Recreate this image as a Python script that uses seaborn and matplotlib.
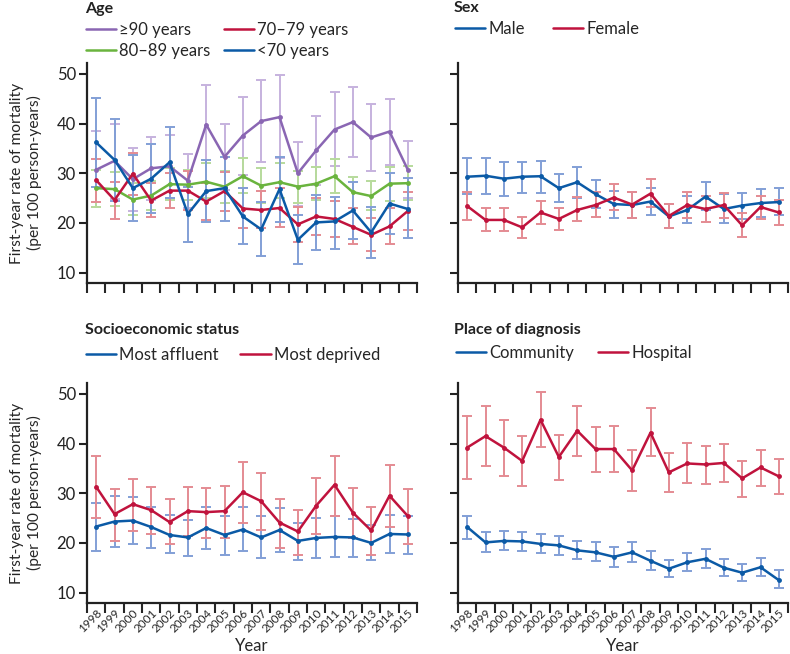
import numpy as np
import pandas as pd
import matplotlib
matplotlib.use("Agg")
import matplotlib.pyplot as plt
import seaborn as sns

years = list(range(1998, 2016))

# Age
age_ge90 = [30.7, 32.5, 28.8, 31.0, 31.4, 28.5, 39.8, 33.3, 37.6, 40.5, 41.3, 30.0, 34.6, 38.8, 40.3, 37.2, 38.4, 30.7]
age_ge90_lo = [23.3, 24.8, 22.3, 24.7, 25.0, 23.0, 32.0, 26.6, 29.7, 32.3, 33.0, 23.5, 27.6, 31.4, 33.2, 30.4, 31.6, 25.0]
age_ge90_hi = [38.5, 40.0, 35.0, 37.3, 37.8, 33.9, 47.7, 40.0, 45.4, 48.8, 49.7, 36.3, 41.6, 46.3, 47.4, 44.0, 45.0, 36.4]
age_80 = [27.0, 26.8, 24.7, 25.5, 27.8, 27.7, 28.3, 27.3, 29.4, 27.5, 28.2, 27.3, 27.9, 29.4, 26.2, 25.4, 27.9, 28.0]
age_80_lo = [23.3, 23.4, 21.5, 22.5, 24.7, 24.7, 25.0, 24.0, 26.0, 24.0, 25.0, 24.0, 24.7, 26.0, 23.0, 22.5, 24.5, 24.6]
age_80_hi = [30.7, 30.3, 28.0, 28.5, 31.0, 30.7, 32.0, 30.5, 33.0, 31.0, 32.0, 30.5, 31.3, 32.8, 29.3, 28.5, 31.3, 31.4]
age_70 = [28.6, 24.6, 29.9, 24.5, 26.5, 26.5, 24.3, 26.4, 22.9, 22.6, 23.0, 19.7, 21.3, 20.8, 19.2, 17.6, 19.3, 22.4]
age_70_lo = [24.2, 20.8, 25.6, 21.2, 23.0, 22.6, 20.6, 22.3, 19.0, 19.0, 19.2, 16.2, 17.6, 17.2, 15.8, 14.3, 15.8, 18.5]
age_70_hi = [32.8, 28.3, 34.0, 28.0, 30.0, 30.5, 28.0, 30.3, 27.0, 26.5, 27.0, 23.2, 25.0, 24.5, 23.0, 21.0, 23.0, 26.3]
age_lt70 = [36.2, 32.7, 27.0, 28.9, 32.2, 21.8, 26.4, 27.0, 21.3, 18.7, 26.8, 16.6, 20.1, 20.3, 22.5, 18.1, 23.9, 22.8]
age_lt70_lo = [27.3, 24.5, 20.3, 22.0, 25.0, 16.2, 20.2, 20.3, 15.7, 13.3, 20.2, 11.7, 14.6, 14.8, 16.7, 13.0, 17.7, 16.9]
age_lt70_hi = [45.2, 41.0, 33.6, 35.8, 39.3, 27.3, 32.6, 33.2, 27.0, 24.3, 33.3, 21.5, 25.6, 25.3, 28.2, 23.3, 30.0, 29.0]

# Sex
male = [29.3, 29.5, 28.9, 29.3, 29.4, 27.0, 28.2, 25.8, 23.8, 23.6, 24.3, 21.3, 22.6, 25.3, 22.8, 23.5, 24.0, 24.2]
male_lo = [25.8, 25.8, 25.5, 26.0, 26.0, 24.3, 25.0, 23.0, 21.0, 21.0, 21.5, 19.0, 20.0, 22.5, 20.0, 20.8, 21.2, 21.5]
male_hi = [33.1, 33.1, 32.2, 32.3, 32.4, 29.8, 31.2, 28.6, 26.5, 26.3, 27.0, 23.8, 25.5, 28.3, 25.8, 26.0, 26.8, 27.0]
female = [23.4, 20.6, 20.6, 19.1, 22.1, 20.8, 22.6, 23.6, 25.1, 23.7, 25.9, 21.4, 23.6, 22.8, 23.6, 19.5, 23.2, 22.1]
female_lo = [20.6, 18.3, 18.3, 17.0, 19.8, 18.5, 20.3, 21.2, 22.5, 21.0, 23.2, 19.0, 21.0, 20.2, 21.0, 17.2, 20.8, 19.5]
female_hi = [26.2, 23.1, 23.0, 21.2, 24.5, 23.0, 25.2, 26.2, 27.8, 26.3, 28.8, 23.9, 26.2, 25.5, 26.0, 22.0, 25.5, 24.7]

# Socioeconomic status
affluent = [23.3, 24.3, 24.5, 23.2, 21.6, 21.1, 23.0, 21.6, 22.7, 21.1, 22.6, 20.4, 21.0, 21.2, 21.1, 20.0, 21.8, 21.7]
affluent_lo = [18.3, 19.2, 19.7, 19.0, 18.0, 17.4, 18.8, 17.5, 18.3, 17.0, 18.2, 16.5, 16.9, 17.2, 17.2, 16.5, 18.0, 17.7]
affluent_hi = [28.1, 29.4, 29.3, 27.3, 25.7, 24.7, 27.2, 25.5, 27.2, 25.4, 27.0, 24.1, 25.0, 25.4, 24.8, 23.6, 25.6, 25.4]
deprived = [31.3, 25.8, 27.8, 26.6, 24.2, 26.4, 26.2, 26.4, 30.2, 28.4, 24.1, 22.3, 27.5, 31.7, 26.1, 22.5, 29.5, 25.4]
deprived_lo = [25.1, 20.3, 22.3, 21.8, 19.7, 21.3, 21.0, 21.0, 24.0, 22.7, 19.0, 17.6, 21.8, 25.5, 21.0, 17.5, 23.2, 19.8]
deprived_hi = [37.4, 30.8, 32.8, 31.2, 28.8, 31.2, 31.0, 31.5, 36.3, 34.0, 28.8, 26.7, 33.1, 37.5, 31.0, 27.2, 35.6, 30.9]

# Place of diagnosis
community = [23.2, 20.1, 20.4, 20.3, 19.8, 19.5, 18.5, 18.1, 17.2, 18.1, 16.4, 14.8, 16.1, 16.8, 15.0, 14.0, 15.1, 12.5]
community_lo = [20.8, 18.2, 18.5, 18.4, 17.9, 17.6, 16.7, 16.3, 15.2, 16.1, 14.5, 13.2, 14.3, 15.0, 13.3, 12.3, 13.4, 10.9]
community_hi = [25.5, 22.1, 22.3, 22.1, 21.7, 21.3, 20.3, 20.1, 19.2, 20.2, 18.3, 16.5, 18.0, 18.7, 16.8, 15.8, 17.0, 14.5]
hospital = [39.2, 41.5, 39.2, 36.5, 44.8, 37.3, 42.6, 38.9, 38.9, 34.6, 42.2, 34.2, 36.0, 35.8, 36.1, 33.0, 35.2, 33.4]
hospital_lo = [32.8, 35.4, 33.5, 31.5, 39.3, 32.6, 37.6, 34.3, 34.2, 30.4, 37.4, 30.3, 32.1, 31.9, 32.2, 29.3, 31.5, 29.9]
hospital_hi = [45.6, 47.6, 44.7, 41.5, 50.3, 41.7, 47.6, 43.3, 43.5, 38.8, 47.1, 38.1, 40.1, 39.6, 40.0, 36.5, 38.8, 36.8]

PURPLE, PURPLE_L = "#8a66b3", "#c6b2de"
GREEN, GREEN_L = "#6ab43e", "#b7db9c"
RED, RED_L = "#c0133d", "#e48b93"
BLUE, BLUE_L = "#0b5aa6", "#829fd6"

sns.set_style("ticks")
plt.rcParams["font.family"] = ["Lato", "DejaVu Sans"]
plt.rcParams["axes.linewidth"] = 1.6
plt.rcParams["xtick.major.width"] = 1.5
plt.rcParams["ytick.major.width"] = 1.5
plt.rcParams["xtick.minor.width"] = 1.5

fig = plt.figure(figsize=(7.9, 6.54), dpi=100)
W, H = 790, 654


def add_ax(left, top, right, bottom):
    return fig.add_axes([left / W, 1 - bottom / H, (right - left) / W, (bottom - top) / H])


def panel(ax, series, title, title_xy, leg_xy, colsp, ylabels=True, xlabels=False):
    pos = np.arange(len(years))
    rows = []
    for name, m, lo, hi, col, light in series:
        m, lo, hi = np.array(m), np.array(lo), np.array(hi)
        ax.errorbar(pos, m, yerr=[m - lo, hi - m], fmt="none", ecolor=light,
                    elinewidth=1.4, capsize=3.8, capthick=1.4, zorder=1)
        rows.append(pd.DataFrame({"pos": pos, "rate": m, "group": name}))
    df = pd.concat(rows)
    pal = {s[0]: s[4] for s in series}
    sns.lineplot(data=df, x="pos", y="rate", hue="group", palette=pal, marker="o",
                 markersize=3.5, markeredgewidth=0, linewidth=1.8, ax=ax, zorder=3,
                 errorbar=None)
    ax.set_xlim(-0.5, len(years) - 0.5)
    ax.set_ylim(7.9, 52.2)
    ax.set_yticks([10, 20, 30, 40, 50])
    ax.set_xticks(np.arange(-0.5, len(years)), minor=False)
    ax.set_xticks(pos, minor=True)
    ax.tick_params(axis="x", which="major", length=7, labelbottom=False)
    ax.tick_params(axis="y", length=6, labelsize=12, colors="#222222", pad=2)
    if xlabels:
        ax.set_xticklabels([str(y) for y in years], minor=True, rotation=45,
                           ha="right", rotation_mode="anchor", fontsize=8.5)
        ax.tick_params(axis="x", which="minor", length=0, pad=3)
        ax.set_xlabel("Year", fontsize=12)
        ax.xaxis.set_label_coords(0.5, -0.158)
    else:
        ax.tick_params(axis="x", which="minor", length=0, labelbottom=False)
        ax.set_xlabel("")
    if ylabels:
        ax.set_ylabel("First-year rate of mortality\n(per 100 person-years)", fontsize=11.2,
                      linespacing=1.25)
        ax.yaxis.set_label_coords(-0.135, 0.5)
    else:
        ax.set_yticklabels([])
        ax.set_ylabel("")
    sns.despine(ax=ax)
    for sp in ax.spines.values():
        sp.set_color("#222222")
    ax.get_legend().remove()
    fig.text(title_xy[0] / W, 1 - title_xy[1] / H, title, fontsize=11.5,
             fontweight="bold", va="center", ha="left", color="#222222")
    handles, labels = ax.get_legend_handles_labels()
    fig.legend(handles, labels, ncol=2, frameon=False, loc="upper left",
               bbox_to_anchor=(leg_xy[0] / W, 1 - leg_xy[1] / H), borderpad=0,
               borderaxespad=0, handlelength=1.8, handletextpad=0.2,
               columnspacing=colsp, labelspacing=0.3, fontsize=12)
    for h in fig.legends[-1].get_lines():
        h.set_marker("")
        h.set_linewidth(1.8)


ax1 = add_ax(87, 63, 417, 283)
panel(ax1, [("≥90 years", age_ge90, age_ge90_lo, age_ge90_hi, PURPLE, PURPLE_L),
            ("80–89 years", age_80, age_80_lo, age_80_hi, GREEN, GREEN_L),
            ("70–79 years", age_70, age_70_lo, age_70_hi, RED, RED_L),
            ("<70 years", age_lt70, age_lt70_lo, age_lt70_hi, BLUE, BLUE_L)],
      "Age", (85, 9), (86, 22), 0.8)

ax2 = add_ax(458, 63, 788, 283)
panel(ax2, [("Male", male, male_lo, male_hi, BLUE, BLUE_L),
            ("Female", female, female_lo, female_hi, RED, RED_L)],
      "Sex", (454, 8), (455, 21), 1.7, ylabels=False)

ax3 = add_ax(87, 383, 417, 603)
panel(ax3, [("Most affluent", affluent, affluent_lo, affluent_hi, BLUE, BLUE_L),
            ("Most deprived", deprived, deprived_lo, deprived_hi, RED, RED_L)],
      "Socioeconomic status", (85, 330), (86, 347), 1.3, xlabels=True)

ax4 = add_ax(458, 383, 788, 603)
panel(ax4, [("Community", community, community_lo, community_hi, BLUE, BLUE_L),
            ("Hospital", hospital, hospital_lo, hospital_hi, RED, RED_L)],
      "Place of diagnosis", (454, 330), (456, 345), 1.45, ylabels=False, xlabels=True)

fig.savefig("out.png", dpi=100)
